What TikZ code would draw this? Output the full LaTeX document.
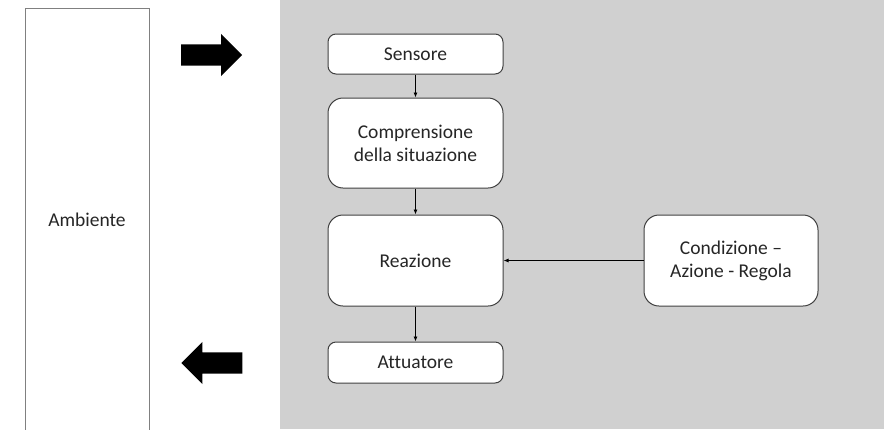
\documentclass[tikz,border=0pt]{standalone}
\usepackage{fontspec}
\setmainfont{Carlito}[Ligatures={TeX,NoCommon}]
\usetikzlibrary{arrows.meta,shapes.arrows}
\definecolor{bggray}{RGB}{208,208,208}
\definecolor{boxline}{RGB}{64,64,64}
\definecolor{txt}{RGB}{38,38,38}
\begin{document}
\begin{tikzpicture}[x=1pt,y=-1pt,
    font=\fontsize{19.5pt}{23pt}\selectfont,
    box/.style={draw=boxline, line width=1pt, fill=white, rounded corners=8pt, text=txt, align=center, minimum width=175pt, inner sep=0pt},
    bigbox/.style={box, rounded corners=15pt},
    fatarrow/.style={single arrow, fill=black, inner xsep=0pt, inner ysep=10.5pt, single arrow head extend=10.5pt, single arrow head indent=0pt, minimum height=61pt},
    link/.style={-{Latex[length=5pt,width=4pt]}, line width=0.8pt}]
  \useasboundingbox (0,0) rectangle (884,429);
  \fill [bggray] (280,0) rectangle (884,429);
  \node [box, draw=gray, rounded corners=0pt, minimum width=124pt, minimum height=424pt] (ambiente) at (87,220) {Ambiente};
  \node [fatarrow, anchor=tail] (inArrow) at (181,55) {};
  \node [fatarrow, shape border rotate=180, anchor=tip] (outArrow) at (181,363) {};
  \node [box, minimum height=40pt] (sensore) at (415.5,54) {Sensore};
  \node [bigbox, minimum height=90pt] (comprensione) at (415.5,143) {Comprensione\\della situazione};
  \node [bigbox, minimum height=91pt] (reazione) at (415.5,260.5) {Reazione};
  \node [box, minimum height=41pt] (attuatore) at (415.5,362.5) {Attuatore};
  \node [bigbox, minimum width=174pt, minimum height=91pt] (regola) at (731,260.5) {Condizione –\\Azione - Regola};
  \draw [link] (sensore) -- (comprensione);
  \draw [link] (comprensione) -- (reazione);
  \draw [link] (reazione) -- (attuatore);
  \draw [link] (regola) -- (reazione);
\end{tikzpicture}
\end{document}
